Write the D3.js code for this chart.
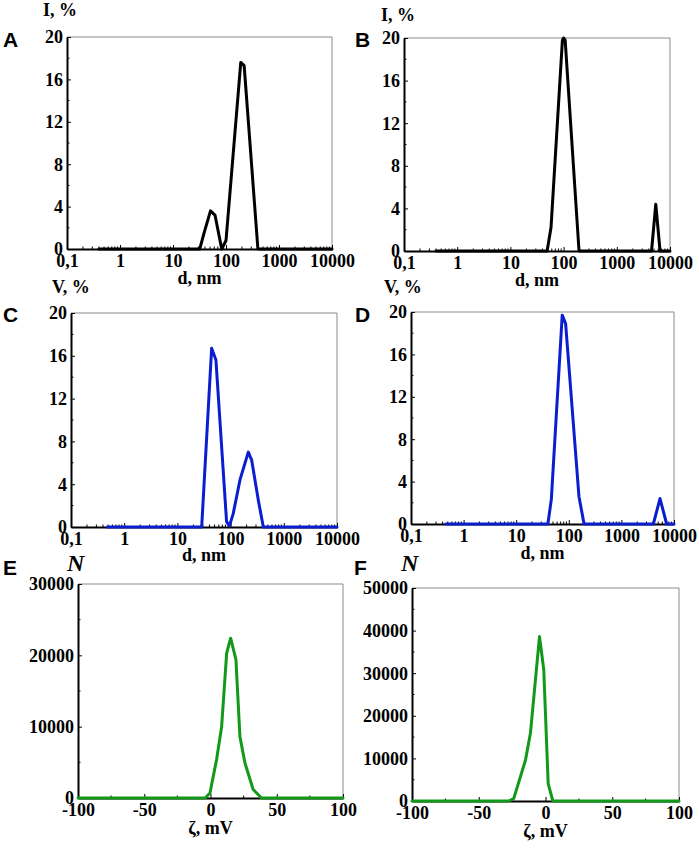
<!DOCTYPE html>
<html>
<head>
<meta charset="utf-8">
<script src="https://cdn.jsdelivr.net/npm/d3@7"></script>
<style>
  html, body { margin: 0; padding: 0; background: #fff; }
  svg { display: block; }
</style>
</head>
<body>
<script>
// ---------------- data ----------------
// size axis (log) ticks
const sizeTicks = [0.1, 1, 10, 100, 1000, 10000];
const sizeTickLabels = ["0,1", "1", "10", "100", "1000", "10000"];
const pctTicks = [0, 4, 8, 12, 16, 20];
// zeta axis ticks
const zetaTicks = [-100, -50, 0, 50, 100];
const countTicksE = [0, 10000, 20000, 30000];
const countTicksF = [0, 10000, 20000, 30000, 40000, 50000];

// A: intensity distribution
const aD = [0.4, 32, 38.5, 51, 62, 83, 100, 190, 220, 400, 10000];
const aI = [0, 0, 1.5, 3.6, 3.2, 0, 0.8, 17.6, 17.3, 0, 0];
// B: intensity distribution
const bD = [0.4, 49, 58, 95, 100, 107, 195, 4500, 5400, 6500, 10000];
const bI = [0, 0, 2.2, 19.8, 20, 19.8, 0, 0, 4.4, 0, 0];
// C: volume distribution
const cD = [0.48, 28.6, 44, 53, 84, 95, 112, 150, 215, 249, 332, 412, 10000];
const cV = [0, 0, 16.7, 15.6, 0.5, 0.1, 1.25, 4.4, 7.0, 6.25, 2.5, 0, 0];
// D: volume distribution
const dD = [0.46, 40, 46.5, 75, 87, 156, 195, 4050, 5420, 7250, 10000];
const dV = [0, 0, 2.3, 19.7, 18.9, 2.6, 0, 0, 2.4, 0, 0];
// E: zeta potential distribution
const eZ = [-100, -4, -0.4, 4.6, 8.4, 12.2, 15.2, 19.2, 22.2, 26, 32.2, 38.5, 100];
const eN = [0, 0, 700, 5400, 10000, 20300, 22400, 19400, 8600, 4900, 1200, 0, 0];
// F: zeta potential distribution
const fZ = [-100, -27.5, -23.8, -15, -11.3, -4.5, -1.3, 2, 5.5, 100];
const fN = [0, 0, 550, 9600, 15900, 38600, 30800, 4100, 0, 0];

// ---------------- layout ----------------
const W = 699, H = 849;
const SERIF = "'Liberation Serif', 'Times New Roman', Times, serif";
const SANS = "'Liberation Sans', Arial, Helvetica, sans-serif";
const svg = d3.select("body").append("svg").attr("width", W).attr("height", H);
svg.append("rect").attr("width", W).attr("height", H).attr("fill", "#fff");

const BLACK = "#000", BLUE = "#0a1ed0", GREEN = "#12991a";

const panels = [
  { letter: "A", box: [67, 37, 332, 249], type: "size", xs: aD, ys: aI, color: BLACK,
    ylab: "I, %", ylabPos: [43, 16], lx: 3, ly: 47, xlabY: 284 },
  { letter: "B", box: [404, 38, 670, 251], type: "size", xs: bD, ys: bI, color: BLACK,
    ylab: "I, %", ylabPos: [381, 21], lx: 355, ly: 47, xlabY: 286 },
  { letter: "C", box: [71, 313, 337, 527], type: "size", xs: cD, ys: cV, color: BLUE,
    ylab: "V, %", ylabPos: [52, 293], lx: 3, ly: 322, xlabY: 561 },
  { letter: "D", box: [411, 312, 674, 524], type: "size", xs: dD, ys: dV, color: BLUE,
    ylab: "V, %", ylabPos: [384, 293], lx: 355, ly: 322, xlabY: 559 },
  { letter: "E", box: [78, 584, 343, 798], type: "zeta", xs: eZ, ys: eN, color: GREEN,
    yTicks: countTicksE, ymax: 30000, nPos: [67, 571], lx: 3, ly: 575, xlabY: 834 },
  { letter: "F", box: [412, 588, 679, 801], type: "zeta", xs: fZ, ys: fN, color: GREEN,
    yTicks: countTicksF, ymax: 50000, nPos: [401, 571], lx: 354, ly: 575, xlabY: 837 }
];

function serifText(sel) {
  return sel.style("font-family", SERIF).style("font-weight", "bold")
    .style("font-size", "18px").attr("fill", "#000");
}

panels.forEach(p => {
  const [l, t, r, b] = p.box;
  const g = svg.append("g");
  let x, y, xAxis, yAxis, xMinor, yMinor;

  if (p.type === "size") {
    x = d3.scaleLog().domain([0.1, 10000]).range([l, r]);
    y = d3.scaleLinear().domain([0, 20]).range([b, t]);
    xMinor = [];
    for (let dec = 0.1; dec < 10000; dec *= 10)
      for (let k = 2; k <= 9; k++) xMinor.push(dec * k);
    yMinor = d3.range(2, 20, 4);
    xAxis = d3.axisBottom(x).tickValues(sizeTicks)
      .tickFormat((d, i) => sizeTickLabels[i]);
    yAxis = d3.axisLeft(y).tickValues(pctTicks).tickFormat(d => String(d));
  } else {
    x = d3.scaleLinear().domain([-100, 100]).range([l, r]);
    y = d3.scaleLinear().domain([0, p.ymax]).range([b, t]);
    xMinor = [-75, -25, 25, 75];
    yMinor = d3.range(5000, p.ymax, 10000);
    xAxis = d3.axisBottom(x).tickValues(zetaTicks).tickFormat(d => String(d));
    yAxis = d3.axisLeft(y).tickValues(p.yTicks).tickFormat(d => String(d));
  }

  // top / right frame (thin gray)
  g.append("path")
    .attr("d", `M${l},${t}H${r}V${b}`)
    .attr("fill", "none").attr("stroke", "#8a8a8a").attr("stroke-width", 1);

  // minor ticks (inward)
  g.append("g").selectAll("line").data(xMinor).join("line")
    .attr("x1", d => x(d)).attr("x2", d => x(d))
    .attr("y1", b).attr("y2", b - 2.5)
    .attr("stroke", "#000").attr("stroke-width", 1);
  g.append("g").selectAll("line").data(yMinor).join("line")
    .attr("x1", l).attr("x2", l + 2.5)
    .attr("y1", d => y(d)).attr("y2", d => y(d))
    .attr("stroke", "#000").attr("stroke-width", 1);

  const gx = g.append("g").attr("transform", `translate(0,${b})`)
    .call(xAxis.tickSizeInner(-4).tickSizeOuter(0).tickPadding(5));
  const gy = g.append("g").attr("transform", `translate(${l},0)`)
    .call(yAxis.tickSizeInner(-4).tickSizeOuter(0).tickPadding(4));
  [gx, gy].forEach(a => {
    a.select(".domain").attr("stroke", "#000").attr("stroke-width", 2);
    a.selectAll(".tick line").attr("stroke", "#000").attr("stroke-width", 1);
    serifText(a.selectAll(".tick text"));
  });
  gy.selectAll(".tick text").attr("dy", "0.33em");

  // data line
  const pts = p.xs.map((v, i) => [v, p.ys[i]]);
  g.append("path").datum(pts)
    .attr("d", d3.line().x(d => x(d[0])).y(d => y(d[1])))
    .attr("fill", "none").attr("stroke", p.color).attr("stroke-width", 3)
    .attr("stroke-linejoin", "round").attr("stroke-linecap", "round");

  // panel letter
  svg.append("text").attr("x", p.lx).attr("y", p.ly).text(p.letter)
    .style("font-family", SANS).style("font-weight", "bold").style("font-size", "21px")
    .attr("fill", "#000");

  if (p.type === "size") {
    serifText(svg.append("text").attr("x", p.ylabPos[0]).attr("y", p.ylabPos[1]).text(p.ylab));
    serifText(svg.append("text").attr("text-anchor", "middle")
      .attr("x", (l + r) / 2).attr("y", p.xlabY).text("d, nm"));
  } else {
    svg.append("text").attr("x", p.nPos[0]).attr("y", p.nPos[1]).text("N")
      .style("font-family", SERIF).style("font-style", "italic").style("font-weight", "bold")
      .style("font-size", "24px").attr("fill", "#000");
    serifText(svg.append("text").attr("text-anchor", "middle")
      .attr("x", (l + r) / 2).attr("y", p.xlabY).text("ζ, mV"));
  }
});
</script>
</body>
</html>
